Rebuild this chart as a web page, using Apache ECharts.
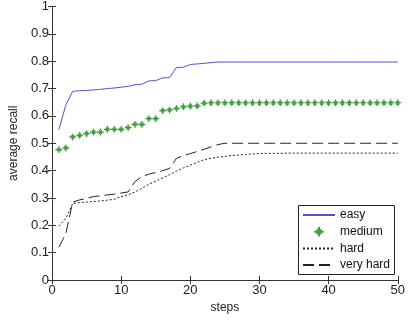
<!DOCTYPE html>
<html>
<head>
<meta charset="utf-8">
<script src="https://cdn.jsdelivr.net/npm/echarts@6/dist/echarts.min.js"></script>
<style>
  html, body { margin: 0; padding: 0; background: #fff; }
  #main { width: 408px; height: 320px; }
</style>
</head>
<body>
<div id="main"></div>
<script>
// values, steps 1..50
var steps = [];
for (var i = 1; i <= 50; i++) steps.push(i);

var easy = [0.550, 0.640, 0.690, 0.692, 0.693, 0.695, 0.697, 0.700, 0.702, 0.705,
            0.708, 0.714, 0.716, 0.728, 0.729, 0.739, 0.740, 0.777, 0.778, 0.788,
            0.790, 0.792, 0.795, 0.797, 0.797, 0.797, 0.797, 0.797, 0.797, 0.797,
            0.797, 0.797, 0.797, 0.797, 0.797, 0.797, 0.797, 0.797, 0.797, 0.797,
            0.797, 0.797, 0.797, 0.797, 0.797, 0.797, 0.797, 0.797, 0.797, 0.797];
var medium = [0.477, 0.483, 0.523, 0.529, 0.535, 0.541, 0.541, 0.551, 0.551, 0.551,
              0.557, 0.569, 0.569, 0.590, 0.590, 0.619, 0.622, 0.627, 0.633, 0.636,
              0.637, 0.647, 0.648, 0.648, 0.648, 0.648, 0.648, 0.648, 0.648, 0.648,
              0.648, 0.648, 0.648, 0.648, 0.648, 0.648, 0.648, 0.648, 0.648, 0.648,
              0.648, 0.648, 0.648, 0.648, 0.648, 0.648, 0.648, 0.648, 0.648, 0.648];
var hard = [0.197, 0.225, 0.280, 0.283, 0.285, 0.287, 0.289, 0.292, 0.295, 0.305,
            0.312, 0.322, 0.335, 0.350, 0.362, 0.373, 0.385, 0.398, 0.410, 0.420,
            0.430, 0.440, 0.445, 0.449, 0.452, 0.455, 0.457, 0.459, 0.461, 0.462,
            0.463, 0.463, 0.463, 0.464, 0.464, 0.464, 0.464, 0.464, 0.464, 0.464,
            0.464, 0.464, 0.464, 0.464, 0.464, 0.464, 0.464, 0.464, 0.464, 0.464];
var veryHard = [0.120, 0.170, 0.285, 0.293, 0.298, 0.305, 0.308, 0.311, 0.314, 0.318,
                0.322, 0.360, 0.378, 0.387, 0.393, 0.400, 0.408, 0.445, 0.455, 0.462,
                0.470, 0.478, 0.487, 0.495, 0.500, 0.500, 0.500, 0.500, 0.500, 0.500,
                0.500, 0.500, 0.500, 0.500, 0.500, 0.500, 0.500, 0.500, 0.500, 0.500,
                0.500, 0.500, 0.500, 0.500, 0.500, 0.500, 0.500, 0.500, 0.500, 0.500];

function pairs(ys) {
  return ys.map(function (y, k) { return [steps[k], y]; });
}

var font = 'Liberation Sans, Arial, sans-serif';
var axisCol = '#333';
// matlab-ish '*' marker, stroked
var star = 'path://M5 0L5 10M0 5L10 5M2.6 2.6L7.4 7.4M7.4 2.6L2.6 7.4';
var noSym = { opacity: 0 };

var chart = echarts.init(document.getElementById('main'));
chart.setOption({
  animation: false,
  grid: { left: 52, right: 8, top: 6, bottom: 40 },
  xAxis: [{
    type: 'value', min: 0, max: 50, interval: 10,
    name: 'steps', nameLocation: 'middle', nameGap: 21,
    nameTextStyle: { color: '#222', fontFamily: font, fontSize: 12 },
    axisLine: { lineStyle: { color: axisCol } },
    axisTick: { inside: true, length: 4, lineStyle: { color: axisCol } },
    axisLabel: { color: '#222', fontFamily: font, fontSize: 13, margin: 4 },
    splitLine: { show: false }
  }, {
    type: 'value', min: 0, max: 50, interval: 10, position: 'top',
    axisLine: { show: true, lineStyle: { color: axisCol } },
    axisTick: { inside: true, length: 4, lineStyle: { color: axisCol } },
    axisLabel: { show: false }, splitLine: { show: false }
  }],
  yAxis: [{
    type: 'value', min: 0, max: 1, interval: 0.1,
    name: 'average recall', nameLocation: 'middle', nameGap: 28,
    nameTextStyle: { color: '#222', fontFamily: font, fontSize: 12 },
    axisLine: { show: true, lineStyle: { color: axisCol } },
    axisTick: { show: true, inside: true, length: 4, lineStyle: { color: axisCol } },
    axisLabel: { color: '#222', fontFamily: font, fontSize: 13, margin: 3 },
    splitLine: { show: false }
  }, {
    type: 'value', min: 0, max: 1, interval: 0.1, position: 'right',
    axisLine: { show: true, lineStyle: { color: axisCol } },
    axisTick: { show: true, inside: true, length: 4, lineStyle: { color: axisCol } },
    axisLabel: { show: false }, splitLine: { show: false }
  }],
  legend: {
    orient: 'vertical', left: 297, top: 204,
    itemWidth: 32, itemHeight: 12, itemGap: 4.7,
    textStyle: { color: '#111', fontFamily: font, fontSize: 12 },
    data: [
      { name: 'easy', itemStyle: noSym },
      { name: 'medium' },
      { name: 'hard', itemStyle: noSym },
      { name: 'very hard', itemStyle: noSym }
    ]
  },
  graphic: [{
    type: 'rect', shape: { x: 298.5, y: 205.5, width: 96, height: 69 },
    style: { fill: '#fff', stroke: '#222', lineWidth: 1 }, z: 0
  }],
  series: [{
    name: 'easy', type: 'line', data: pairs(easy), symbol: 'none',
    lineStyle: { color: '#5252cc', width: 1 }, itemStyle: { color: '#5252cc' }, z: 3
  }, {
    name: 'medium', type: 'line', data: pairs(medium),
    symbol: star, symbolSize: 7, showSymbol: true,
    lineStyle: { width: 0, opacity: 0 },
    itemStyle: { color: '#42a042', borderColor: '#42a042', borderWidth: 1.2 }, z: 3
  }, {
    name: 'hard', type: 'line', data: pairs(hard), symbol: 'none',
    lineStyle: { color: '#222', width: 1, type: [2, 2] }, itemStyle: { color: '#222' }, z: 3
  }, {
    name: 'very hard', type: 'line', data: pairs(veryHard), symbol: 'none',
    lineStyle: { color: '#222', width: 1, type: [11, 5] }, itemStyle: { color: '#222' }, z: 3
  }]
});
</script>
</body>
</html>
